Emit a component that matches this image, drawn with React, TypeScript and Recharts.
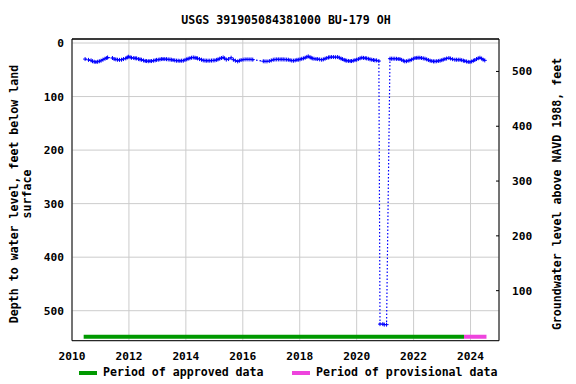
import React from 'react';
import { LineChart, Line, XAxis, YAxis, CartesianGrid, ReferenceLine, Label } from 'recharts';

// decimal years of each measurement, and depth below land surface (ft)
const years = [
  2010.46, 2010.58, 2010.67, 2010.72, 2010.78, 2010.84, 2010.9, 2010.96, 2011.02, 2011.09,
  2011.16, 2011.22, 2011.25, 2011.42, 2011.48, 2011.54, 2011.6, 2011.67, 2011.74, 2011.81,
  2011.89, 2011.94, 2011.98, 2012.04, 2012.09, 2012.17, 2012.22, 2012.27, 2012.34, 2012.39,
  2012.44, 2012.51, 2012.57, 2012.62, 2012.68, 2012.74, 2012.79, 2012.86, 2012.92, 2012.97,
  2013.03, 2013.09, 2013.15, 2013.2, 2013.26, 2013.32, 2013.38, 2013.44, 2013.49, 2013.55,
  2013.61, 2013.67, 2013.73, 2013.79, 2013.85, 2013.91, 2013.97, 2014.03, 2014.08, 2014.14,
  2014.2, 2014.26, 2014.32, 2014.36, 2014.41, 2014.48, 2014.55, 2014.61, 2014.67, 2014.72,
  2014.78, 2014.84, 2014.9, 2014.96, 2015.02, 2015.08, 2015.13, 2015.19, 2015.25, 2015.31,
  2015.36, 2015.42, 2015.5, 2015.59, 2015.67, 2015.74, 2015.82, 2015.88, 2015.94, 2016.01,
  2016.08, 2016.15, 2016.22, 2016.29, 2016.35, 2016.72, 2016.78, 2016.85, 2016.93, 2017.0,
  2017.07, 2017.13, 2017.19, 2017.25, 2017.31, 2017.37, 2017.42, 2017.48, 2017.54, 2017.6,
  2017.66, 2017.72, 2017.78, 2017.84, 2017.9, 2017.95, 2018.01, 2018.07, 2018.13, 2018.19,
  2018.25, 2018.3, 2018.36, 2018.4, 2018.44, 2018.5, 2018.57, 2018.63, 2018.7, 2018.77,
  2018.83, 2018.89, 2018.95, 2019.01, 2019.06, 2019.12, 2019.19, 2019.26, 2019.33, 2019.39,
  2019.45, 2019.5, 2019.56, 2019.6, 2019.65, 2019.71, 2019.77, 2019.82, 2019.88, 2019.94,
  2020.0, 2020.06, 2020.12, 2020.18, 2020.24, 2020.3, 2020.35, 2020.41, 2020.47, 2020.53,
  2020.59, 2020.64, 2020.7, 2020.78, 2020.82, 2020.92, 2020.97, 2021.05, 2021.17, 2021.22,
  2021.28, 2021.34, 2021.4, 2021.46, 2021.52, 2021.58, 2021.64, 2021.69, 2021.75, 2021.81,
  2021.87, 2021.93, 2021.99, 2022.05, 2022.11, 2022.16, 2022.22, 2022.28, 2022.34, 2022.4,
  2022.46, 2022.52, 2022.58, 2022.64, 2022.7, 2022.75, 2022.81, 2022.87, 2022.93, 2022.99,
  2023.04, 2023.1, 2023.16, 2023.24, 2023.3, 2023.37, 2023.45, 2023.51, 2023.57, 2023.63,
  2023.69, 2023.75, 2023.8, 2023.86, 2023.92, 2023.98, 2024.04, 2024.1, 2024.15, 2024.21,
  2024.27, 2024.33, 2024.39, 2024.44, 2024.5,
];
const depths = [
  30, 31.5, 32.4, 34, 35, 35.5, 35, 34, 33, 31,
  29.3, 28, 27, 28, 30, 30.5, 31.2, 31.5, 31.2, 30,
  28.7, 27, 25.6, 26.5, 27.5, 28, 28.5, 28.7, 30, 30.6,
  31.2, 32.5, 33.5, 33.7, 34, 33.7, 33.7, 33, 32.4, 31.5,
  31.2, 30.6, 30, 30, 30, 30.2, 30.6, 30.8, 31.2, 31.8,
  32.4, 33, 33, 33.3, 33, 33, 31.5, 30.5, 29.3, 28.5,
  27.5, 27, 27.5, 28, 28.7, 30, 31.2, 32.4, 32.8, 33,
  33, 33, 32.8, 32.5, 32.4, 31.5, 30.5, 29.3, 28, 27,
  28.5, 31, 30, 27.5, 31.2, 33, 34.3, 33, 31.8, 31,
  30.6, 30.5, 30.6, 30.6, 31, 34, 34.3, 34.3, 33.7, 32.5,
  31.2, 30.8, 30.6, 30.6, 30.6, 30.6, 30.6, 30.8, 31, 31.2,
  32, 32.8, 33, 32.4, 31.5, 31.2, 30.5, 29.5, 28.7, 27.5,
  26, 25, 26.5, 27.5, 28.7, 29.3, 29.8, 30, 30.6, 31.2,
  30.5, 29.3, 28, 27, 26.5, 26.2, 26.2, 26.5, 26.2, 27.5,
  29, 30, 31.5, 32.4, 33, 33.5, 33.7, 33.7, 33, 32,
  31.2, 30, 28.5, 27.5, 27.8, 28.2, 28.7, 29.5, 30.5, 31.2,
  31.8, 32.4, 32.4, 33.7, 525, 525, 526, 526, 29.3, 29.3,
  29.3, 29.3, 29.5, 29.8, 30, 31.5, 33, 34.3, 34, 33,
  32.4, 31, 29.5, 28, 27.8, 27.5, 27.5, 28, 28.7, 29.3,
  30.5, 31.8, 33, 33.7, 34.3, 34.3, 34, 33.5, 33, 32,
  31, 30, 29, 28, 29, 30.2, 31.2, 31.2, 31.2, 31.2,
  32, 33, 33.7, 34.5, 35.2, 35.5, 34.5, 33, 31.8, 30,
  28.5, 27.5, 29, 31, 32.4,
];

const yearTicks = [2010, 2012, 2014, 2016, 2018, 2020, 2022, 2024];
const depthTicks = [0, 100, 200, 300, 400, 500];
const elevationTicks = [100, 200, 300, 400, 500];
const approvedPeriod = [2010.41, 2023.77];
const provisionalPeriod = [2023.77, 2024.56];

const depthDomain = [-7.5, 556];
const elevationDomain = [8.7, 559.2];
const barDepth = 548.6;

const levels = years.map((year, i) => ({ year, depth: depths[i] }));

const FONT = '"DejaVu Sans Mono", "Liberation Mono", monospace';

const PlusDot = (props: any) => {
  const { cx, cy, index } = props;
  if (cx == null || cy == null) return <g key={index} />;
  return (
    <path
      key={index}
      d={`M${cx - 2},${cy}H${cx + 2}M${cx},${cy - 2}V${cy + 2}`}
      stroke="#0000ff"
      strokeWidth={1}
      fill="none"
    />
  );
};

const RightTick = (props: any) => {
  const { x, y, payload } = props;
  return (
    <g>
      <line x1={x - 16} x2={x - 13} y1={y} y2={y} stroke="#000" />
      <text x={x} y={y} dy="0.35em" textAnchor="start" fontFamily={FONT} fontWeight="bold" fontSize={11.2} fill="#000">
        {payload.value}
      </text>
    </g>
  );
};

const LeftTitle = () => (
  <g fontFamily={FONT} fontWeight="bold" fontSize={11.6} fill="#000">
    <text transform="translate(14,194) rotate(-90)" textAnchor="middle" dominantBaseline="central">
      Depth to water level, feet below land
    </text>
    <text transform="translate(27,194) rotate(-90)" textAnchor="middle" dominantBaseline="central">
      surface
    </text>
  </g>
);

const RightTitle = () => (
  <g fontFamily={FONT} fontWeight="bold" fontSize={11.6} fill="#000">
    <text transform="translate(557,194) rotate(-90)" textAnchor="middle" dominantBaseline="central">
      Groundwater level above NAVD 1988, feet
    </text>
  </g>
);

const tickStyle = { fontFamily: FONT, fontWeight: 'bold', fontSize: 11.2, fill: '#000' };

export default function App() {
  return (
    <div style={{ position: 'absolute', left: 0, top: 0, width: 576, height: 384, background: '#fff', fontFamily: FONT }}>
      <div
        style={{
          position: 'absolute', left: 0, top: 13, width: 572, textAlign: 'center',
          fontSize: 11.6, fontWeight: 'bold', color: '#000',
        }}
      >
        USGS 391905084381000 BU-179 OH
      </div>
      <LineChart width={576} height={384} data={levels} margin={{ top: 39, right: 0, bottom: 0, left: 0 }}>
        <CartesianGrid yAxisId="left" stroke="#cccccc" strokeWidth={1} />
        <XAxis
          dataKey="year"
          type="number"
          domain={[2010, 2025]}
          ticks={yearTicks}
          height={43.3}
          axisLine={{ stroke: '#000' }}
          tickLine={false}
          tickMargin={5}
          tick={tickStyle}
          allowDataOverflow
        />
        <YAxis
          yAxisId="left"
          type="number"
          reversed
          domain={depthDomain}
          ticks={depthTicks}
          width={72}
          axisLine={{ stroke: '#000' }}
          tickLine={false}
          tick={tickStyle}
          allowDataOverflow
        >
          <Label content={LeftTitle} />
        </YAxis>
        <YAxis
          yAxisId="right"
          orientation="right"
          type="number"
          domain={elevationDomain}
          ticks={elevationTicks}
          width={77}
          axisLine={{ stroke: '#000' }}
          tickLine={false}
          tickSize={8}
          tickMargin={5}
          tick={<RightTick />}
          allowDataOverflow
        >
          <Label content={RightTitle} />
        </YAxis>
        <ReferenceLine yAxisId="left" y={depthDomain[0]} stroke="#000" strokeWidth={1.5} />
        <ReferenceLine
          yAxisId="left"
          segment={[{ x: approvedPeriod[0], y: barDepth }, { x: approvedPeriod[1], y: barDepth }]}
          stroke="#009900"
          strokeWidth={4}
        />
        <ReferenceLine
          yAxisId="left"
          segment={[{ x: provisionalPeriod[0], y: barDepth }, { x: provisionalPeriod[1], y: barDepth }]}
          stroke="#ee44dd"
          strokeWidth={4}
        />
        <Line
          yAxisId="left"
          dataKey="depth"
          type="linear"
          stroke="#0000ff"
          strokeWidth={1.2}
          strokeDasharray="1.5 2"
          dot={PlusDot}
          activeDot={false}
          isAnimationActive={false}
        />
      </LineChart>
      <div style={{ position: 'absolute', left: 79, top: 371, width: 18, height: 4, background: '#009900' }} />
      <div style={{ position: 'absolute', left: 103, top: 365, fontSize: 11.6, fontWeight: 'bold', color: '#000', whiteSpace: 'nowrap' }}>
        Period of approved data
      </div>
      <div style={{ position: 'absolute', left: 292, top: 371, width: 18, height: 4, background: '#ee44dd' }} />
      <div style={{ position: 'absolute', left: 316, top: 365, fontSize: 11.6, fontWeight: 'bold', color: '#000', whiteSpace: 'nowrap' }}>
        Period of provisional data
      </div>
    </div>
  );
}
